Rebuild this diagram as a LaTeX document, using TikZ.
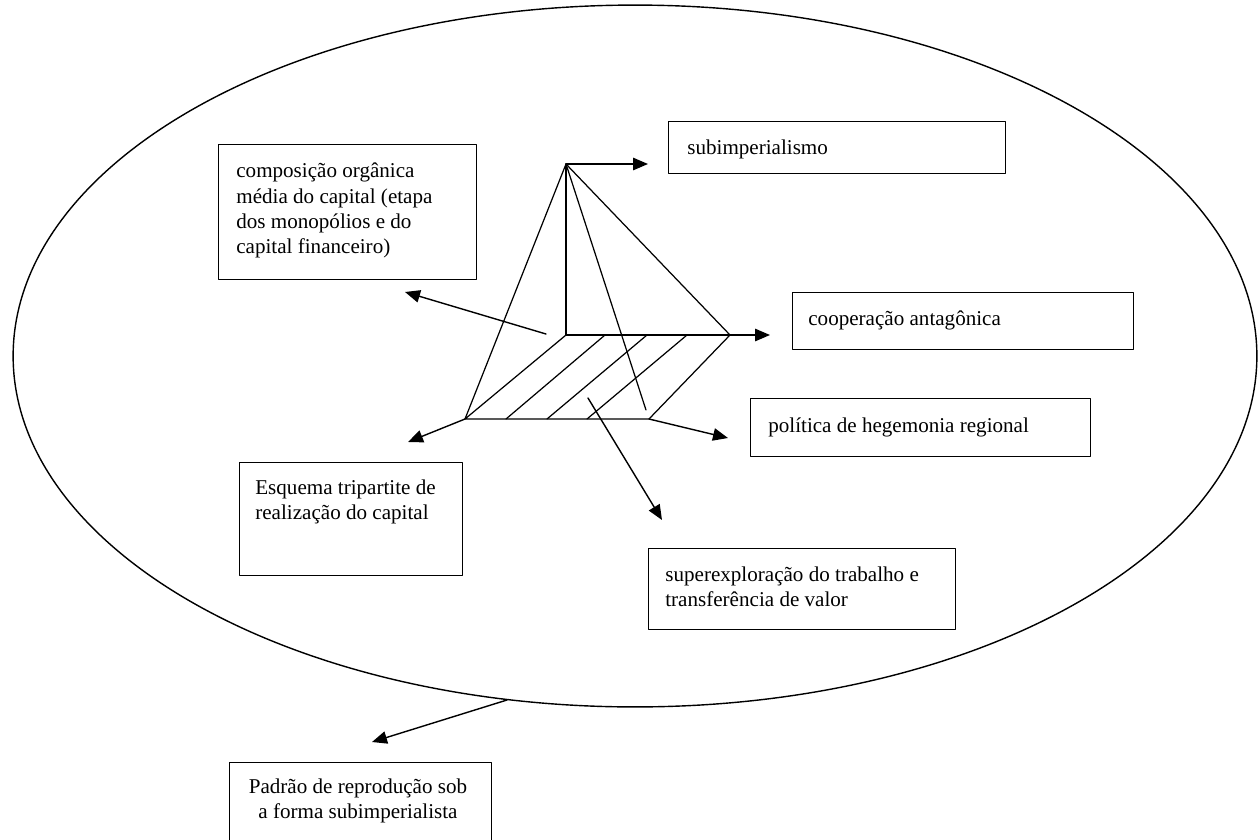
\documentclass[tikz,border=0pt]{standalone}
\usepackage{fontspec}
\setmainfont{Liberation Serif}
\usetikzlibrary{arrows.meta}

\begin{document}
\begin{tikzpicture}[line cap=round,line join=round,x=0.02cm,y=-0.02cm,
	caixa/.style={draw, line width=0.8pt, anchor=north west, inner sep=0pt},
	texto/.style={anchor=north west, align=left, inner sep=0pt, font=\fontsize{12}{14.5}\selectfont},
	seta/.style={line width=0.8pt, -{Triangle[length=0.3cm,width=0.25cm]}}]
	\useasboundingbox (0,0) rectangle (1258,839);
	\draw [line width=0.8pt] (635,356) ellipse [x radius=12.44cm, y radius=7.02cm];
	\coordinate (apice) at (566,164);
	\coordinate (centro) at (566,335);
	\coordinate (dir) at (730,335);
	\coordinate (esqbase) at (465,419);
	\coordinate (dirbase) at (649,419);
	\coordinate (interno) at (646,410);
	\draw [line width=0.7pt] (esqbase) -- (apice) -- (dir);
	\draw [line width=0.7pt] (apice) -- (centro);
	\draw [line width=0.7pt] (apice) -- (interno);
	\draw [line width=0.7pt] (centro) -- (esqbase) -- (dirbase) -- (dir);
	\foreach \a/\b in {506/605, 547/647, 587/687}
		\draw [line width=0.7pt] (\a,419) -- (\b,335);
	\node[caixa, minimum width=5.16cm, minimum height=2.70cm] (comp) at (218,144) {};
	\node[caixa, minimum width=6.74cm, minimum height=1.04cm] (subimp) at (668,121) {};
	\node[caixa, minimum width=6.82cm, minimum height=1.14cm] (coop) at (792,292) {};
	\node[caixa, minimum width=6.80cm, minimum height=1.16cm] (polit) at (750,398) {};
	\node[caixa, minimum width=4.46cm, minimum height=2.26cm] (esquema) at (239,462) {};
	\node[caixa, minimum width=6.14cm, minimum height=1.62cm] (superexp) at (648,548) {};
	\node[caixa, minimum width=5.24cm, minimum height=2.00cm] (padrao) at (229,762) {};
	\node[texto] (comptxt) at (236,162.5) {composição orgânica\\média do capital (etapa\\dos monopólios e do\\capital financeiro)};
	\node[texto] (subimptxt) at (687,139.5) {subimperialismo};
	\node[texto] (cooptxt) at (808,310.5) {cooperação antagônica};
	\node[texto] (polittxt) at (768,417.5) {política de hegemonia regional};
	\node[texto] (esquematxt) at (255,479.5) {Esquema tripartite de\\realização do capital};
	\node[texto] (superexptxt) at (665,566.5) {superexploração do trabalho e\\transferência de valor};
	\node[texto, anchor=north, align=center] (padraotxt) at (358,778.5) {Padrão de reprodução sob\\a forma subimperialista};
	\coordinate (psub) at (648,164);
	\coordinate (pcoop) at (770,335);
	\coordinate (scomp) at (546,334);
	\coordinate (pcomp) at (405,292);
	\coordinate (pesq) at (408,442);
	\coordinate (ppol) at (728,438);
	\coordinate (ssup) at (588,398);
	\coordinate (psup) at (662,520);
	\coordinate (selipse) at (507,700);
	\coordinate (ppadrao) at (372,742);
	\draw[seta] (apice) -- (psub);
	\draw[seta] (centro) -- (pcoop);
	\draw[seta] (scomp) -- (pcomp);
	\draw[seta] (esqbase) -- (pesq);
	\draw[seta] (dirbase) -- (ppol);
	\draw[seta] (ssup) -- (psup);
	\draw[seta] (selipse) -- (ppadrao);
\end{tikzpicture}
\end{document}
